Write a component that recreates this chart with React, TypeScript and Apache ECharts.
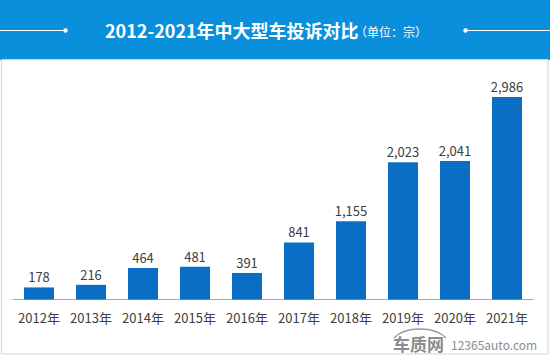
import React, { useEffect, useRef } from "react";
import * as echarts from "echarts";

const categories = ["2012年", "2013年", "2014年", "2015年", "2016年", "2017年", "2018年", "2019年", "2020年", "2021年"];
const complaints = [178, 216, 464, 481, 391, 841, 1155, 2023, 2041, 2986];
const titleMain = "2012-2021年中大型车投诉对比";
const titleUnit = "（单位：宗）";

const FONT = "'Microsoft YaHei', 'Noto Sans CJK SC', 'Noto Sans', sans-serif";

export default function App() {
  const ref = useRef<HTMLDivElement>(null);
  useEffect(() => {
    if (!ref.current) return;
    const chart = echarts.init(ref.current, null, { renderer: "svg" });
    chart.setOption({
      animation: false,
      backgroundColor: "#ffffff",
      grid: { left: 13, right: 17, top: 62, height: 237.5 },
      xAxis: {
        type: "category",
        data: categories,
        axisLine: { lineStyle: { color: "#a8a8a8", width: 1 } },
        axisTick: { show: false },
        axisLabel: { color: "#404040", fontSize: 13, fontFamily: FONT, margin: 11, interval: 0 },
      },
      yAxis: {
        type: "value",
        min: 0,
        max: 3500,
        show: false,
        splitLine: { show: false },
      },
      series: [
        {
          type: "bar",
          data: complaints,
          barWidth: 30,
          itemStyle: { color: "#0a6fc4" },
          label: {
            show: true,
            position: "top",
            distance: 4,
            color: "#404040",
            fontSize: 13,
            fontFamily: FONT,
            formatter: (p: any) => Number(p.value).toLocaleString("en-US"),
          },
        },
      ],
      graphic: [
        { type: "rect", shape: { x: 0, y: 0, width: 550, height: 60 }, style: { fill: "#0a8fdc" }, silent: true },
        { type: "rect", shape: { x: 1.5, y: 59.5, width: 546.5, height: 294.5 }, style: { fill: "none", stroke: "#d4d4d4", lineWidth: 1 }, silent: true },
        { type: "line", shape: { x1: 0, y1: 30.5, x2: 65, y2: 30.5 }, style: { stroke: "#ffffff", lineWidth: 1 } },
        { type: "circle", shape: { cx: 65.5, cy: 30.5, r: 2.2 }, style: { fill: "#ffffff" } },
        { type: "line", shape: { x1: 466, y1: 30.5, x2: 550, y2: 30.5 }, style: { stroke: "#ffffff", lineWidth: 1 } },
        { type: "circle", shape: { cx: 465.5, cy: 30.5, r: 2.2 }, style: { fill: "#ffffff" } },
        {
          type: "text",
          x: 105,
          y: 30,
          style: { text: titleMain, fill: "#ffffff", font: `bold 18px ${FONT}`, textVerticalAlign: "middle", textAlign: "left" },
        },
        {
          type: "text",
          x: 355,
          y: 31,
          style: { text: titleUnit, fill: "#ffffff", font: `12px ${FONT}`, textVerticalAlign: "middle", textAlign: "left" },
        },
        {
          type: "bezierCurve",
          shape: { x1: 394, y1: 338, x2: 446, y2: 338, cpx1: 405, cpy1: 326, cpx2: 435, cpy2: 326 },
          style: { stroke: "#9a9a9a", lineWidth: 1.5, fill: "none" },
        },
        {
          type: "text",
          x: 393,
          y: 343,
          style: { text: "车质网", fill: "#8c8c8c", font: `bold 17px ${FONT}`, textVerticalAlign: "middle", textAlign: "left" },
        },
        {
          type: "text",
          x: 451,
          y: 344,
          style: { text: "12365auto.com", fill: "#8c8c8c", font: `12px ${FONT}`, textVerticalAlign: "middle", textAlign: "left" },
        },
      ],
    });
    return () => chart.dispose();
  }, []);
  return <div ref={ref} style={{ position: "fixed", left: 0, top: 0, width: 550, height: 356 }} />;
}
